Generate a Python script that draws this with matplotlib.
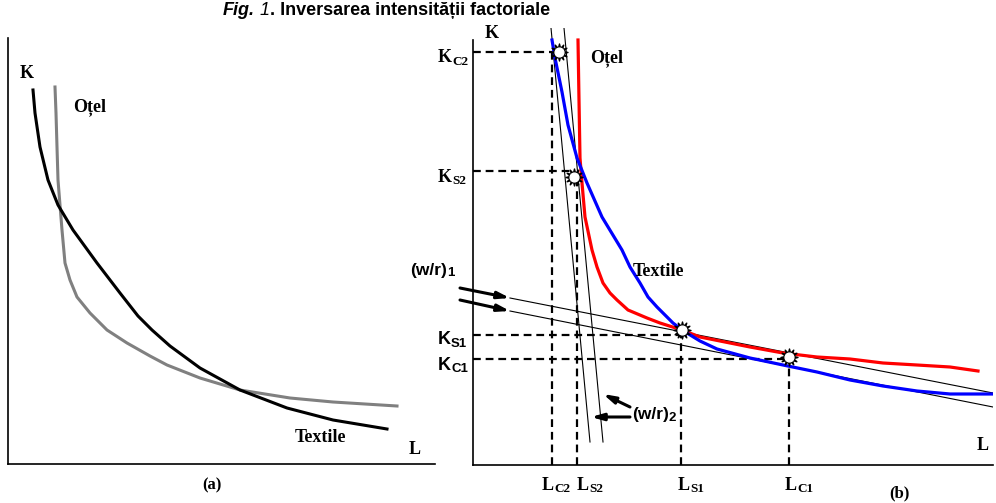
#!/usr/bin/env python3

import matplotlib
matplotlib.use('Agg')
import matplotlib.pyplot as plt

# Fig. 1 - factor intensity reversal (two isoquant panels)
# values, in pixel-like units from each panel origin

# panel (a): isoquants
a_textile_x = [25, 27, 32, 40, 50, 65, 89, 112, 130, 144, 162, 192, 232, 279, 325, 379]
a_textile_y = [374, 351, 317, 284, 259, 234, 201, 171, 148, 134, 118, 96, 74, 56, 44, 35]
a_otel_x = [47, 48, 49, 50, 52, 54, 57, 62, 69, 82, 99, 119, 142, 159, 192, 232, 282, 325, 389]
a_otel_y = [377, 351, 317, 284, 259, 234, 201, 184, 167, 151, 134, 121, 108, 99, 86, 74, 66, 62, 58]

# panel (b): isoquants
b_textile_x = [79, 82, 89, 95, 104, 114, 129, 149, 157, 167, 175, 184, 200, 209,
               227, 244, 277, 310, 344, 377, 410, 444, 477, 519]
b_textile_y = [425, 407, 373, 340, 307, 282, 248, 215, 198, 182, 168, 158, 142, 135,
               124, 116, 107, 100, 93, 85, 79, 74, 71, 71]
b_otel_x = [105, 106, 107, 109, 112, 119, 124, 130, 137, 144, 155, 174, 187, 209,
            227, 277, 310, 344, 377, 410, 444, 477, 505]
b_otel_y = [425, 365, 307, 282, 248, 215, 198, 182, 172, 165, 155, 147, 142, 135,
            128, 118, 112, 108, 106, 102, 100, 98, 94]

# isocost lines (w/r)1 flat pair and (w/r)2 steep pair: (x0, y0, x1, y1)
isocost_flat = [(37, 167, 520, 72), (37, 154, 520, 58)]
isocost_steep = [(78, 437, 117, 23), (91, 437, 130, 23)]

# tangency points and their projections on the axes
point_names = ['C2', 'S2', 'S1', 'C1']
point_x = [86, 101, 209, 316]
point_y = [413, 288, 135, 108]
l_levels = [79, 104, 208, 316]
k_levels = [413, 294, 130, 106]

SERIF = 'Liberation Serif'
SANS = 'Liberation Sans'

fig = plt.figure(figsize=(9.96, 5.03), dpi=100)

def sub_label(ax, x, y, base, sub, family, size=13, subsize=9.5):
    t = ax.text(x, y, base, family=family, fontsize=size, fontweight='bold',
                ha='left', va='center', clip_on=False)
    ax.annotate(sub, xy=(1, 0.1), xycoords=t, family=family, fontsize=subsize,
                fontweight='bold', ha='left', va='baseline', annotation_clip=False)
    return t

def label(ax, x, y, s, ha='center', size=13):
    ax.text(x, y, s, family=SERIF, fontsize=size, fontweight='bold', ha=ha,
            va='center', clip_on=False)

def clean(ax):
    ax.spines['top'].set_visible(False)
    ax.spines['right'].set_visible(False)
    for s in ('left', 'bottom'):
        ax.spines[s].set_linewidth(1.2)
    ax.set_xticks([])
    ax.set_yticks([])
    ax.patch.set_alpha(0)

# ---- panel (a)
ax1 = fig.add_axes([8/996, 39/503, 427/996, 426/503])
clean(ax1)
ax1.set_xlim(0, 427)
ax1.set_ylim(0, 426)
ax1.plot(a_otel_x, a_otel_y, color='#808080', lw=2.2, solid_joinstyle='round')
ax1.plot(a_textile_x, a_textile_y, color='black', lw=2.2, solid_joinstyle='round')
label(ax1, 19, 391, 'K')
label(ax1, 65, 357, 'Oțel', ha='left')
label(ax1, 312, 27, 'Textile')
label(ax1, 407, 15, 'L')
label(ax1, 204, -21, '(a)', size=12)

# ---- panel (b)
ax2 = fig.add_axes([473/996, 38/503, 520/996, 437/503])
clean(ax2)
ax2.set_xlim(0, 520)
ax2.set_ylim(0, 437)
ax2.spines['left'].set_bounds(0, 425)

for x0, y0, x1, y1 in isocost_flat + isocost_steep:
    ax2.plot([x0, x1], [y0, y1], color='black', lw=0.8)

for lx, ky, px, py in zip(l_levels, k_levels, point_x, point_y):
    ax2.plot([0, px], [ky, ky], color='black', lw=1.6, ls=(0, (3.5, 2.2)))
    ax2.plot([lx, lx], [0, py], color='black', lw=1.6, ls=(0, (3.5, 2.2)))

ax2.plot(b_otel_x, b_otel_y, color='#ff0000', lw=2.3, solid_joinstyle='round')
ax2.plot(b_textile_x, b_textile_y, color='#0000ff', lw=2.3, solid_joinstyle='round')

ax2.scatter(point_x, point_y, marker=(12, 1, 0), s=150, color='black', zorder=5)
ax2.scatter(point_x, point_y, marker='o', s=40, color='white', zorder=6)

# arrows
flat_arrows = [((-13, 177), (37, 167)), ((-13, 165), (37, 154))]
steep_arrows = [((157, 58), (130, 71)), ((157, 48), (118, 48))]
for start, end in flat_arrows + steep_arrows:
    ax2.annotate('', xy=end, xytext=start, annotation_clip=False,
                 arrowprops=dict(arrowstyle='-|>,head_length=0.7,head_width=0.2',
                                 color='black', lw=2.2, shrinkA=0, shrinkB=0))

label(ax2, 19, 431, 'K')
label(ax2, 510, 20, 'L')
label(ax2, 117, 407, 'Oțel', ha='left')
label(ax2, 160, 193, 'Textile', ha='left')
label(ax2, 426, -28, '(b)', size=12)

sub_label(ax2, -63, 195, '(w/r)', '1', SANS, size=12.5, subsize=9.5)
sub_label(ax2, 159, 50, '(w/r)', '2', SANS, size=12.5, subsize=9.5)

# axis level labels
k_label_y = [407, 288, 125, 100]
k_fams = [SERIF, SERIF, SANS, SANS]
for name, ky, fam in zip(point_names, k_label_y, k_fams):
    sub_label(ax2, -35, ky, 'K', name, fam)
l_label_x = [69, 104, 205, 312]
for name, lx in zip(point_names, l_label_x):
    sub_label(ax2, lx, -20, 'L', name, SERIF)

# title: "Fig." bold italic, "1" italic, rest bold
t1 = fig.text(223/996, 1 - 11/503, 'Fig.', family=SANS, fontsize=13,
              fontweight='bold', style='italic', ha='left', va='baseline')
t1.set_y(1 - 15/503)
t2 = ax1.annotate(' 1', xy=(1, 0), xycoords=t1, family=SANS, fontsize=13,
                  style='italic', ha='left', va='bottom', annotation_clip=False)
ax1.annotate('. Inversarea intensității factoriale', xy=(1, 0), xycoords=t2,
             family=SANS, fontsize=13, fontweight='bold', ha='left', va='bottom',
             annotation_clip=False)

fig.savefig('out.png', dpi=100)
